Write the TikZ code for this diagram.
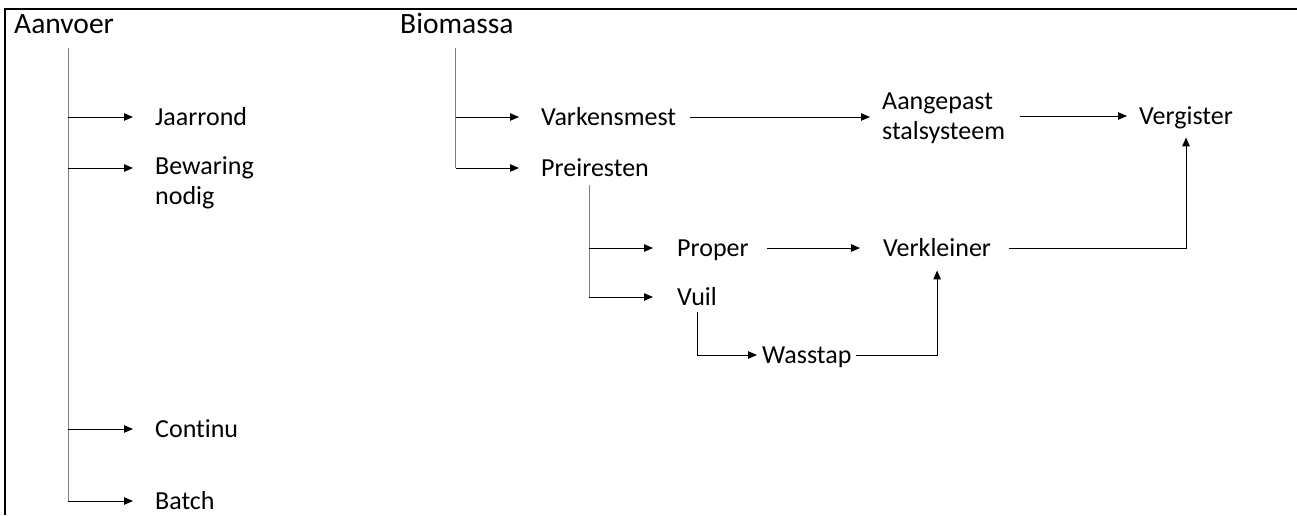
\documentclass[tikz,border=0pt]{standalone}
\usepackage{fontspec}
\setmainfont{Carlito}[Ligatures=NoCommon]
\usetikzlibrary{arrows.meta}

\tikzset{
  lbl/.style={font=\fontsize{26}{30}\selectfont, inner sep=0pt,
              text height=16.5pt, text depth=0pt, anchor=west},
  lbltwo/.style={font=\fontsize{26}{30}\selectfont, inner sep=0pt,
                 align=left, anchor=north west},
  hdr/.style={font=\fontsize{29.5}{34}\selectfont, inner sep=0pt, anchor=base west},
  arr/.style={-{Triangle[length=9pt,width=7.5pt]}, line width=1pt, black},
  trunk/.style={line width=1pt, black!50},
  frame/.style={line width=2pt, black, line join=miter}
}

\begin{document}
\begin{tikzpicture}[x=1pt, y=-1pt]
  \useasboundingbox (0,0) rectangle (1297,515);

  % outer frame (top and left edges)
  \draw[frame] (5,515) -- (5,8.5) -- (1297,8.5);

  % headings
  \node[hdr] (aanvoer)  at (14,33)  {Aanvoer};
  \node[hdr] (biomassa) at (400,33) {Biomassa};

  % supply options
  \node[lbl]    (jaar)  at (155,117) {Jaarrond};
  \node[lbltwo] (bew)   at (155,156) {Bewaring\\nodig};
  \node[lbl]    (cont)  at (155,429) {Continu};
  \node[lbl]    (batch) at (155,501) {Batch};
  \coordinate (bewin) at ([yshift=-12pt]bew.north west);

  % biomass chain
  \node[lbl]    (vark)   at (541,117) {Varkensmest};
  \node[lbl]    (prei)   at (541,168) {Preiresten};
  \node[lbltwo] (aang)   at (882,93)  {Aangepast\\stalsysteem};
  \node[lbl]    (verg)   at (1139,116) {Vergister};
  \node[lbl]    (proper) at (677,248) {Proper};
  \node[lbl]    (vuil)   at (677,297) {Vuil};
  \node[lbl]    (verk)   at (883,248) {Verkleiner};
  \node[lbl]    (wass)   at (762,355) {Wasstap};
  \coordinate (aangin) at ([yshift=-23.5pt]aang.north west);

  % trunk tops
  \coordinate (a0) at (68,48);
  \coordinate (b0) at (455.5,48);
  \coordinate (p0) at (589,185);

  % Aanvoer tree
  \draw[trunk] (a0) -- (a0 |- batch.west);
  \draw[arr, shorten >=22pt] (a0 |- jaar.west)  -- (jaar.west);
  \draw[arr, shorten >=22pt] (a0 |- bewin)      -- (bewin);
  \draw[arr, shorten >=22pt] (a0 |- cont.west)  -- (cont.west);
  \draw[arr, shorten >=22pt] (a0 |- batch.west) -- (batch.west);

  % Biomassa tree
  \draw[trunk] (b0) -- (b0 |- prei.west);
  \draw[arr, shorten >=22pt] (b0 |- vark.west) -- (vark.west);
  \draw[arr, shorten >=22pt] (b0 |- prei.west) -- (prei.west);

  % Preiresten tree
  \draw[trunk] (p0) -- (p0 |- vuil.west);
  \draw[arr, shorten >=24pt] (p0 |- proper.west) -- (proper.west);
  \draw[arr, shorten >=24pt] (p0 |- vuil.west)   -- (vuil.west);

  % process flow
  \draw[arr, shorten <=14pt, shorten >=12pt] (vark.east) -- (vark.east -| aangin);
  \draw[arr, shorten <=15pt, shorten >=12pt] (aang.east |- verg.west) -- (verg.west);
  \draw[arr, shorten <=18pt, shorten >=23pt] (proper.east) -- (verk.west);
  \draw[arr, shorten <=18pt, shorten >=13pt] (verk.east) -| (verg.south);
  \draw[arr, shorten <=7pt,  shorten >=5pt]  (vuil.south) |- (wass.west);
  \draw[arr, shorten <=4pt,  shorten >=14pt] (wass.east) -| (verk.south);
\end{tikzpicture}
\end{document}
